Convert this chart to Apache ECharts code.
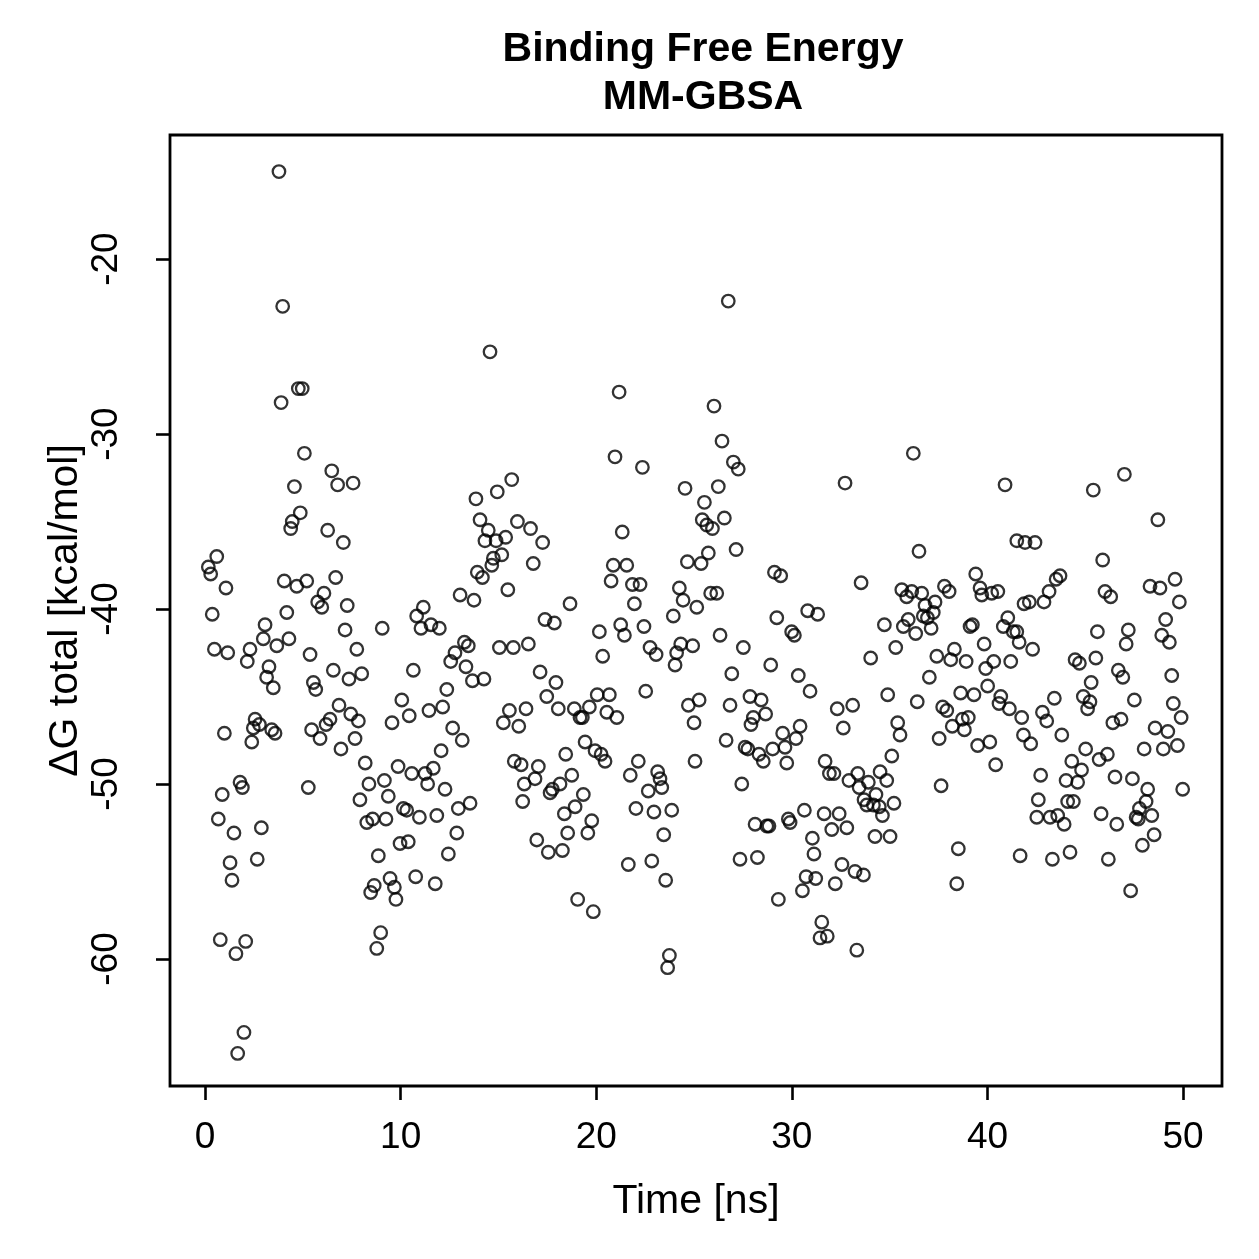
<!DOCTYPE html>
<html>
<head>
<meta charset="utf-8">
<script src="https://cdn.jsdelivr.net/npm/echarts@6/dist/echarts.min.js"></script>
<style>
  html, body { margin: 0; padding: 0; background: #fff; }
  #chart { width: 1259px; height: 1259px; }
</style>
</head>
<body>
<div id="chart"></div>
<script>
// [time (ns), dG total (kcal/mol)], in time order
var run0to8 = [[0.17,-37.6],[0.29,-38.0],[0.37,-40.3],[0.48,-42.3],[0.60,-37.0],[0.68,-52.0],[0.78,-58.9],[0.88,-50.6],[0.99,-47.1],[1.07,-38.8],[1.16,-42.5],[1.28,-54.5],[1.38,-55.5],[1.48,-52.8],[1.58,-59.7],[1.67,-65.4],[1.79,-49.9],[1.91,-50.2],[1.99,-64.2],[2.08,-59.0],[2.16,-43.0],[2.30,-42.3],[2.39,-47.6],[2.47,-46.8],[2.56,-46.3],[2.67,-54.3],[2.78,-46.6],[2.88,-52.5],[2.98,-41.7],[3.07,-40.9],[3.15,-43.9],[3.27,-43.3],[3.41,-46.9],[3.49,-44.5],[3.58,-47.1],[3.67,-42.1],[3.78,-15.0],[3.89,-28.2],[3.97,-22.7],[4.05,-38.4],[4.18,-40.2],[4.29,-41.7],[4.38,-35.4],[4.46,-35.0],[4.57,-33.0],[4.69,-38.7],[4.77,-27.4],[4.87,-34.5],[4.97,-27.4],[5.08,-31.1],[5.20,-38.4],[5.28,-50.2],[5.37,-42.6],[5.45,-46.9],[5.54,-44.2],[5.66,-44.6],[5.76,-39.6],[5.88,-47.4],[5.97,-39.9],[6.08,-39.1],[6.19,-46.6],[6.27,-35.5],[6.39,-46.3],[6.48,-32.1],[6.56,-43.5],[6.68,-38.2],[6.78,-32.9],[6.85,-45.5],[6.95,-48.0],[7.07,-36.2],[7.16,-41.2],[7.27,-39.8],[7.36,-44.0],[7.45,-46.0],[7.57,-32.8],[7.67,-47.4],[7.76,-42.3],[7.84,-46.4],[7.92,-50.9],[8.01,-43.7],[8.19,-48.8],[8.27,-52.2],[8.38,-50.0],[8.47,-56.2]];

var run8to16 = [[8.57,-52.0],[8.65,-55.8],[8.78,-59.4],[8.86,-54.1],[8.98,-58.5],[9.06,-41.1],[9.17,-49.8],[9.25,-52.0],[9.37,-50.7],[9.46,-55.4],[9.56,-46.5],[9.68,-55.9],[9.76,-56.6],[9.87,-49.0],[9.97,-53.4],[10.06,-45.2],[10.14,-51.4],[10.31,-51.5],[10.39,-53.3],[10.44,-46.1],[10.57,-49.4],[10.65,-43.5],[10.77,-55.3],[10.82,-40.4],[10.96,-51.9],[11.04,-41.1],[11.16,-39.9],[11.25,-49.4],[11.38,-50.0],[11.45,-45.8],[11.55,-40.9],[11.67,-49.1],[11.77,-55.7],[11.85,-51.8],[11.98,-41.1],[12.07,-48.1],[12.15,-45.6],[12.27,-50.3],[12.36,-44.6],[12.44,-54.0],[12.56,-43.0],[12.66,-46.8],[12.78,-42.5],[12.87,-52.8],[12.95,-51.4],[13.04,-39.2],[13.15,-47.5],[13.26,-41.9],[13.34,-43.3],[13.46,-42.1],[13.55,-51.1],[13.67,-44.1],[13.75,-39.5],[13.85,-33.7],[13.92,-37.9],[14.06,-34.9],[14.18,-38.2],[14.26,-44.0],[14.31,-36.1],[14.48,-35.5],[14.57,-25.3],[14.66,-37.5],[14.74,-37.1],[14.88,-36.1],[14.94,-33.3],[15.05,-42.2],[15.17,-36.9],[15.25,-46.5],[15.37,-35.9],[15.48,-38.9],[15.56,-45.8],[15.68,-32.6],[15.76,-42.2],[15.81,-48.7],[15.97,-35.0],[16.04,-46.7],[16.16,-48.9],[16.24,-51.0],[16.32,-50.0],[16.41,-45.7],[16.53,-42.0]];

var run16to25 = [[16.64,-35.4],[16.78,-37.4],[16.87,-49.7],[16.96,-53.2],[17.04,-49.0],[17.13,-43.6],[17.26,-36.2],[17.38,-40.6],[17.47,-45.0],[17.55,-53.9],[17.64,-50.5],[17.76,-50.3],[17.86,-40.8],[17.94,-44.2],[18.06,-45.7],[18.15,-50.0],[18.27,-53.8],[18.37,-51.7],[18.44,-48.3],[18.54,-52.8],[18.66,-39.7],[18.75,-49.5],[18.88,-45.7],[18.92,-51.3],[19.05,-56.6],[19.17,-46.2],[19.29,-46.2],[19.34,-50.6],[19.43,-47.6],[19.57,-52.8],[19.65,-45.6],[19.77,-52.1],[19.85,-57.3],[19.94,-48.1],[20.05,-44.9],[20.16,-41.3],[20.25,-48.3],[20.33,-42.7],[20.45,-48.7],[20.54,-45.9],[20.67,-44.9],[20.76,-38.4],[20.87,-37.5],[20.96,-31.3],[21.05,-46.2],[21.17,-27.6],[21.25,-40.9],[21.33,-35.6],[21.44,-41.5],[21.56,-37.5],[21.64,-54.6],[21.74,-49.5],[21.85,-38.6],[21.95,-39.7],[22.03,-51.4],[22.15,-48.7],[22.24,-38.6],[22.36,-31.9],[22.44,-41.0],[22.53,-44.7],[22.66,-50.4],[22.75,-42.2],[22.84,-54.4],[22.95,-51.6],[23.06,-42.6],[23.14,-49.3],[23.26,-49.7],[23.35,-50.2],[23.45,-52.9],[23.55,-55.5],[23.65,-60.5],[23.74,-59.8],[23.86,-51.5],[23.94,-40.4],[24.03,-43.2],[24.11,-42.5],[24.25,-38.8],[24.32,-42.0],[24.44,-39.5],[24.54,-33.1],[24.66,-37.3],[24.71,-45.5],[24.93,-42.1],[25.00,-46.5],[25.05,-48.7],[25.14,-39.9]];

var run25to33 = [[25.26,-45.2],[25.36,-37.4],[25.42,-34.9],[25.53,-33.9],[25.65,-35.2],[25.73,-36.8],[25.85,-39.1],[25.94,-35.4],[26.02,-28.4],[26.16,-39.1],[26.24,-33.0],[26.33,-41.5],[26.43,-30.4],[26.55,-34.8],[26.64,-47.5],[26.75,-22.4],[26.84,-45.5],[26.93,-43.7],[27.01,-31.6],[27.15,-36.6],[27.26,-32.0],[27.35,-54.3],[27.44,-50.0],[27.52,-42.2],[27.61,-47.9],[27.75,-48.0],[27.86,-45.0],[27.91,-46.6],[28.03,-46.2],[28.12,-52.3],[28.24,-54.2],[28.32,-48.3],[28.43,-45.2],[28.54,-48.7],[28.66,-46.0],[28.72,-52.4],[28.83,-52.4],[28.92,-43.2],[29.02,-48.0],[29.11,-37.9],[29.23,-40.5],[29.31,-56.6],[29.43,-38.1],[29.53,-47.1],[29.65,-47.9],[29.74,-48.8],[29.82,-52.0],[29.91,-52.2],[29.99,-41.3],[30.13,-41.5],[30.21,-47.4],[30.33,-43.8],[30.42,-46.7],[30.54,-56.1],[30.64,-51.5],[30.73,-55.3],[30.81,-40.1],[30.93,-44.7],[31.05,-53.1],[31.13,-54.0],[31.22,-55.4],[31.32,-40.3],[31.44,-58.8],[31.53,-57.9],[31.65,-51.7],[31.70,-48.7],[31.81,-58.7],[31.92,-49.4],[32.04,-52.6],[32.15,-49.4],[32.22,-55.7],[32.32,-45.7],[32.42,-51.7],[32.56,-54.6],[32.63,-46.8],[32.72,-32.8],[32.81,-52.5],[32.92,-49.8],[33.11,-45.5],[33.23,-55.0],[33.32,-59.5],[33.37,-49.4],[33.44,-50.2],[33.54,-38.5]];

var run33to42 = [[33.66,-55.2],[33.69,-50.9],[33.83,-51.2],[33.91,-49.9],[34.03,-42.8],[34.17,-51.2],[34.25,-53.0],[34.30,-50.6],[34.47,-51.3],[34.51,-49.3],[34.63,-51.8],[34.73,-40.9],[34.85,-49.8],[34.90,-44.9],[35.02,-53.0],[35.11,-48.4],[35.22,-51.1],[35.31,-42.2],[35.41,-46.5],[35.53,-47.2],[35.62,-38.9],[35.70,-41.0],[35.87,-39.3],[35.95,-40.6],[36.13,-39.0],[36.21,-31.1],[36.33,-41.4],[36.41,-45.3],[36.50,-36.7],[36.64,-39.1],[36.72,-40.4],[36.81,-39.8],[36.93,-40.5],[37.03,-43.9],[37.12,-41.1],[37.23,-40.2],[37.32,-39.6],[37.41,-42.7],[37.53,-47.4],[37.63,-50.1],[37.71,-45.6],[37.80,-38.7],[37.92,-45.8],[38.04,-39.0],[38.12,-42.9],[38.20,-46.7],[38.31,-42.3],[38.43,-55.7],[38.51,-53.7],[38.63,-44.8],[38.72,-46.3],[38.82,-46.9],[38.91,-43.0],[39.02,-46.2],[39.11,-41.0],[39.23,-40.9],[39.31,-44.9],[39.40,-38.0],[39.50,-47.8],[39.62,-38.8],[39.71,-39.2],[39.83,-42.0],[39.91,-43.4],[40.01,-44.4],[40.12,-47.6],[40.22,-39.1],[40.32,-43.0],[40.42,-48.9],[40.53,-39.0],[40.59,-45.4],[40.68,-45.0],[40.81,-41.0],[40.90,-32.9],[41.04,-40.5],[41.12,-45.7],[41.19,-43.0],[41.32,-41.3],[41.50,-41.3],[41.50,-36.1],[41.62,-41.9],[41.67,-54.1],[41.75,-46.2],[41.84,-47.2],[41.87,-39.7],[41.92,-36.2]];

var run42to50 = [[42.14,-39.6],[42.21,-47.7],[42.31,-42.3],[42.43,-36.2],[42.52,-51.9],[42.60,-50.9],[42.72,-49.5],[42.81,-45.9],[42.89,-39.6],[43.03,-46.4],[43.15,-39.0],[43.20,-51.9],[43.32,-54.3],[43.42,-45.1],[43.51,-38.3],[43.59,-51.8],[43.71,-38.1],[43.80,-47.2],[43.92,-52.3],[44.02,-49.8],[44.10,-51.0],[44.22,-53.9],[44.31,-48.7],[44.39,-51.0],[44.48,-42.9],[44.61,-49.9],[44.70,-43.1],[44.81,-49.2],[44.90,-45.0],[45.02,-48.0],[45.12,-45.7],[45.24,-45.3],[45.30,-44.2],[45.41,-33.2],[45.54,-42.8],[45.62,-41.3],[45.71,-48.6],[45.81,-51.7],[45.89,-37.2],[46.01,-39.0],[46.13,-48.3],[46.18,-54.3],[46.30,-39.3],[46.41,-46.5],[46.52,-49.6],[46.61,-52.3],[46.69,-43.5],[46.83,-46.3],[46.92,-43.9],[47.00,-32.3],[47.09,-42.0],[47.20,-41.2],[47.32,-56.1],[47.41,-49.7],[47.51,-45.2],[47.60,-51.9],[47.71,-52.0],[47.77,-51.4],[47.92,-53.5],[48.01,-48.0],[48.11,-51.0],[48.19,-50.3],[48.31,-38.7],[48.40,-51.8],[48.52,-52.9],[48.57,-46.8],[48.71,-34.9],[48.82,-38.8],[48.91,-41.5],[48.99,-48.0],[49.11,-40.6],[49.22,-47.0],[49.30,-41.9],[49.42,-43.8],[49.50,-45.4],[49.59,-38.3],[49.71,-47.8],[49.81,-39.6],[49.90,-46.2],[49.98,-50.3]];

var xTicks = [0, 10, 20, 30, 40, 50];
var yTicks = [-60, -50, -40, -30, -20];

var points = run0to8.concat(run8to16, run16to25, run25to33, run33to42, run42to50);

var chart = echarts.init(document.getElementById('chart'));

var font = 'Liberation Sans, Arial, Helvetica, sans-serif';

var option = {
  backgroundColor: '#fff',
  animation: false,
  title: {
    text: 'Binding Free Energy\nMM-GBSA',
    left: 698,
    top: 21,
    textAlign: 'center',
    textStyle: {
      fontFamily: font,
      fontWeight: 'bold',
      fontSize: 41,
      lineHeight: 48,
      color: '#000'
    }
  },
  grid: {
    left: 170,
    top: 135,
    width: 1052,
    height: 951,
    show: true,
    borderColor: '#000',
    borderWidth: 2.8,
    backgroundColor: 'transparent'
  },
  xAxis: {
    type: 'value',
    min: -1.79,
    max: 51.99,
    name: 'Time [ns]',
    nameLocation: 'middle',
    nameGap: 95,
    nameMoveOverlap: false,
    nameTextStyle: { fontFamily: font, fontSize: 41, color: '#000' },
    axisLine: { show: false, onZero: false },
    splitLine: { show: false },
    axisTick: {
      show: true,
      length: 14,
      customValues: xTicks,
      lineStyle: { color: '#000', width: 2.6 }
    },
    axisLabel: {
      customValues: xTicks,
      margin: 33,
      fontFamily: font,
      fontSize: 37,
      color: '#000'
    }
  },
  yAxis: {
    type: 'value',
    min: -67.26,
    max: -12.91,
    name: 'ΔG total [kcal/mol]',
    nameLocation: 'middle',
    nameGap: 84,
    nameRotate: 90,
    nameMoveOverlap: false,
    nameTextStyle: { fontFamily: font, fontSize: 41, color: '#000' },
    axisLine: { show: false, onZero: false },
    splitLine: { show: false },
    axisTick: {
      show: true,
      length: 14,
      customValues: yTicks,
      lineStyle: { color: '#000', width: 2.6 }
    },
    axisLabel: {
      customValues: yTicks,
      rotate: 90,
      margin: 45,
      fontFamily: font,
      fontSize: 37,
      color: '#000'
    }
  },
  series: [{
    type: 'scatter',
    data: points,
    symbol: 'circle',
    symbolSize: 12.5,
    silent: true,
    itemStyle: {
      color: 'rgba(0,0,0,0)',
      borderColor: '#000',
      borderWidth: 2.3
    }
  }]
};

chart.setOption(option);
</script>
</body>
</html>
